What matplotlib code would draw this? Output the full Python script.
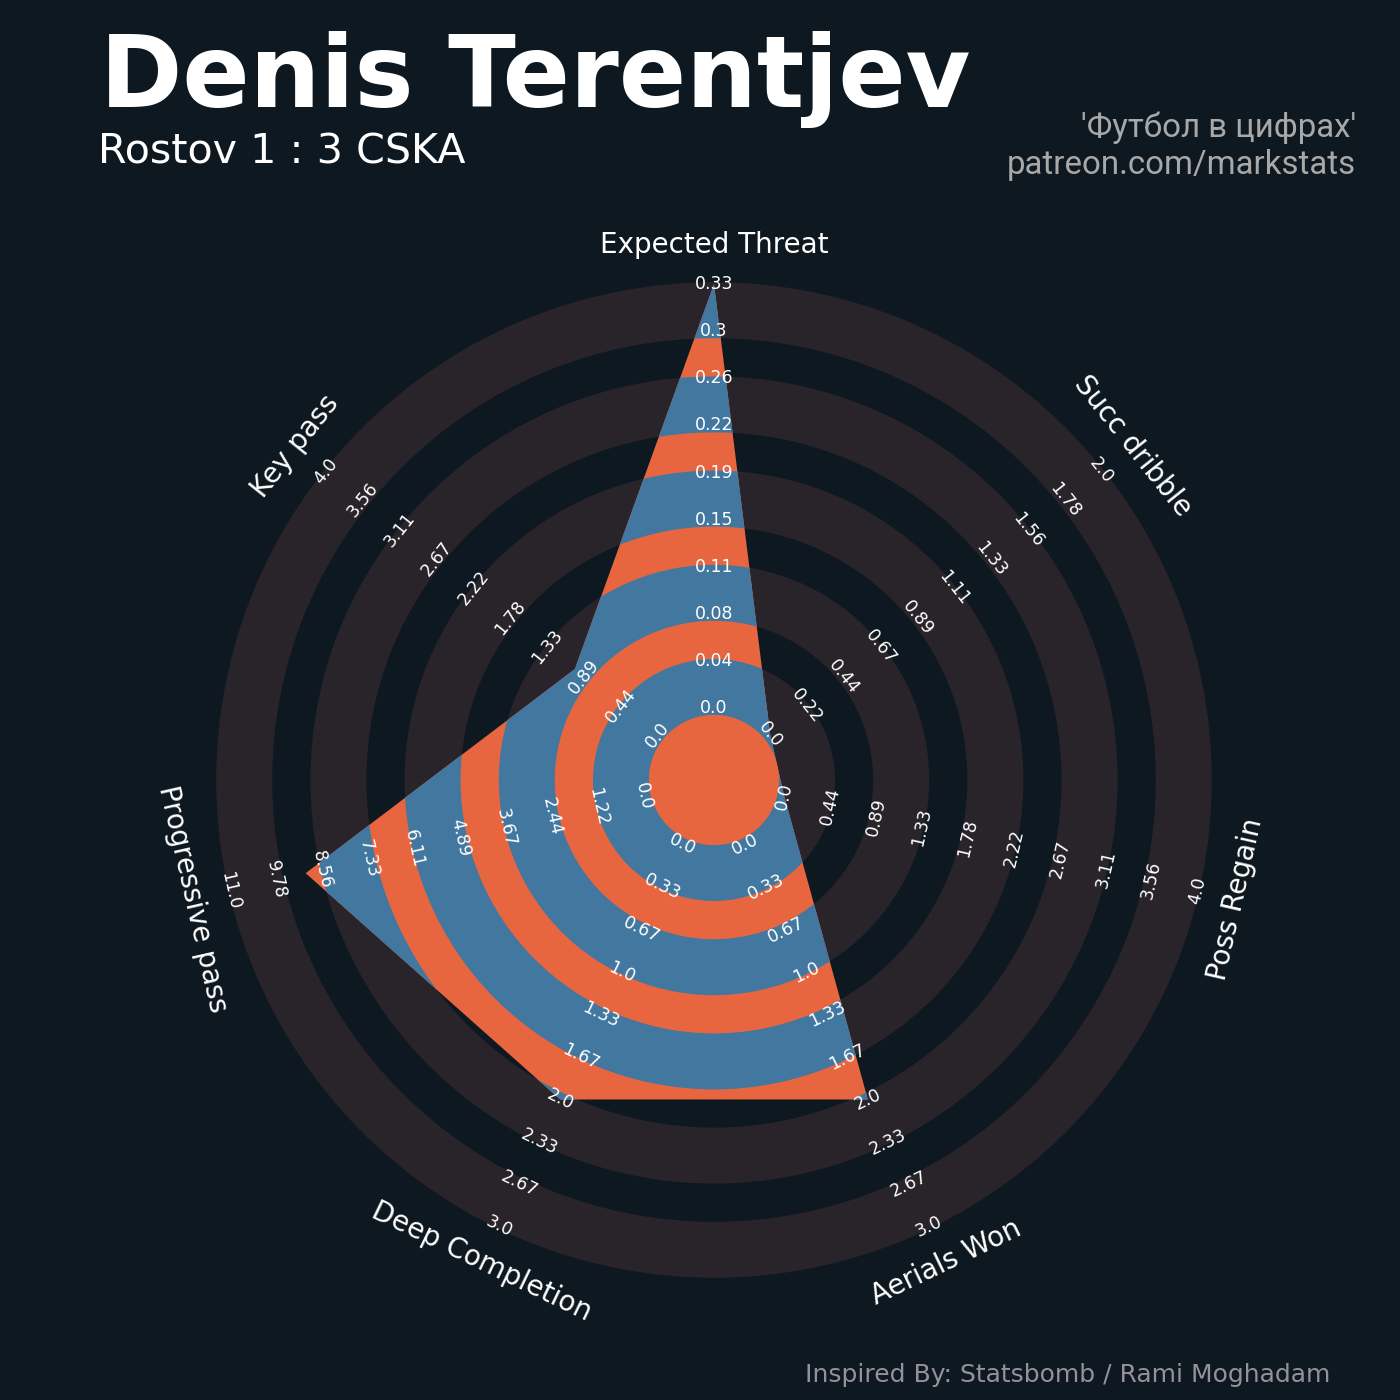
import numpy as np
import matplotlib
matplotlib.use("Agg")
import matplotlib.pyplot as plt
from matplotlib.patches import Wedge, Polygon, Circle

# data
params = ["Expected Threat", "Succ dribble", "Poss Regain", "Aerials Won",
          "Deep Completion", "Progressive pass", "Key pass"]
low = [0, 0, 0, 0, 0, 0, 0]
high = [0.33, 2, 4, 3, 3, 11, 4]
values = [0.33, 0, 0, 2, 2, 9, 1]
# tick labels of the first axis as printed on the chart
xt_ticks = [0.0, 0.04, 0.08, 0.11, 0.15, 0.19, 0.22, 0.26, 0.3, 0.33]

bg = "#0e1820"
ring = "#28242a"
orange = "#e8663f"
blue = "#4278a0"

r0 = 72       # radius of first tick
step = 47.1   # distance between ticks
n_ticks = 10

fig = plt.figure(figsize=(14, 14), dpi=100, facecolor=bg)
ax = fig.add_axes([0, 0, 1, 1])
ax.set_xlim(-714, 686)
ax.set_ylim(-620, 780)
ax.axis("off")
ax.set_facecolor(bg)


def to_r(v, lo, hi):
    return r0 + (v - lo) / (hi - lo) * (n_ticks - 1) * step


n = len(params)
theta = np.pi / 2 - np.arange(n) * 2 * np.pi / n

# rings
bands = []
for k in range(5):
    inner = r0 + 2 * k * step - 7
    bands.append((inner, inner + 56))
for inner, outer in bands:
    ax.add_patch(Wedge((0, 0), outer, 0, 360, width=outer - inner,
                       fc=ring, ec="none", zorder=1))

# radar polygon
rad = [to_r(v, lo, hi) for v, lo, hi in zip(values, low, high)]
verts = np.column_stack([np.cos(theta) * rad, np.sin(theta) * rad])
poly = Polygon(verts, closed=True, fc=orange, ec="none", zorder=2)
ax.add_patch(poly)
for inner, outer in bands:
    w = Wedge((0, 0), outer, 0, 360, width=outer - inner,
              fc=blue, ec="none", zorder=3)
    ax.add_patch(w)
    w.set_clip_path(poly)

ax.add_patch(Circle((0, 0), 65, fc=orange, ec="none", zorder=4))


def rot_of(t):
    r = np.degrees(t) - 90
    while r <= -90:
        r += 180
    while r > 90:
        r -= 180
    return r


# tick labels and parameter names
for j in range(n):
    t = theta[j]
    rot = rot_of(t)
    if j == 0:
        ticks = xt_ticks
    else:
        ticks = [round(x, 2) for x in np.linspace(low[j], high[j], n_ticks)]
    for i, tk in enumerate(ticks):
        r = r0 + i * step
        ax.text(np.cos(t) * r, np.sin(t) * r, str(tk), color="white",
                fontsize=12.5, ha="center", va="center", rotation=rot,
                rotation_mode="anchor", zorder=5)
    ax.text(np.cos(t) * 535, np.sin(t) * 535, params[j], color="white",
            fontsize=20, ha="center", va="center", rotation=rot,
            rotation_mode="anchor", zorder=5)

# titles
fig.text(100 / 1400, 1 - 107 / 1400, "Denis Terentjev", color="white",
         fontsize=71.5, fontweight="bold", ha="left", va="baseline")
fig.text(98 / 1400, 1 - 163 / 1400, "Rostov 1 : 3 CSKA", color="white",
         fontsize=29.7, ha="left", va="baseline")
fig.text(1356 / 1400, 1 - 137 / 1400, "'Футбол в цифрах'", color="#a8a8a8",
         fontsize=23.8, ha="right", va="baseline", family=["Roboto", "DejaVu Sans"])
fig.text(1356 / 1400, 1 - 174 / 1400, "patreon.com/markstats", color="#a8a8a8",
         fontsize=23.8, ha="right", va="baseline", family=["Roboto", "DejaVu Sans"])
fig.text(1330 / 1400, 1 - 1382 / 1400, "Inspired By: Statsbomb / Rami Moghadam",
         color="#95919B", fontsize=18, ha="right", va="baseline")

fig.savefig("out.png", dpi=100, facecolor=bg)
